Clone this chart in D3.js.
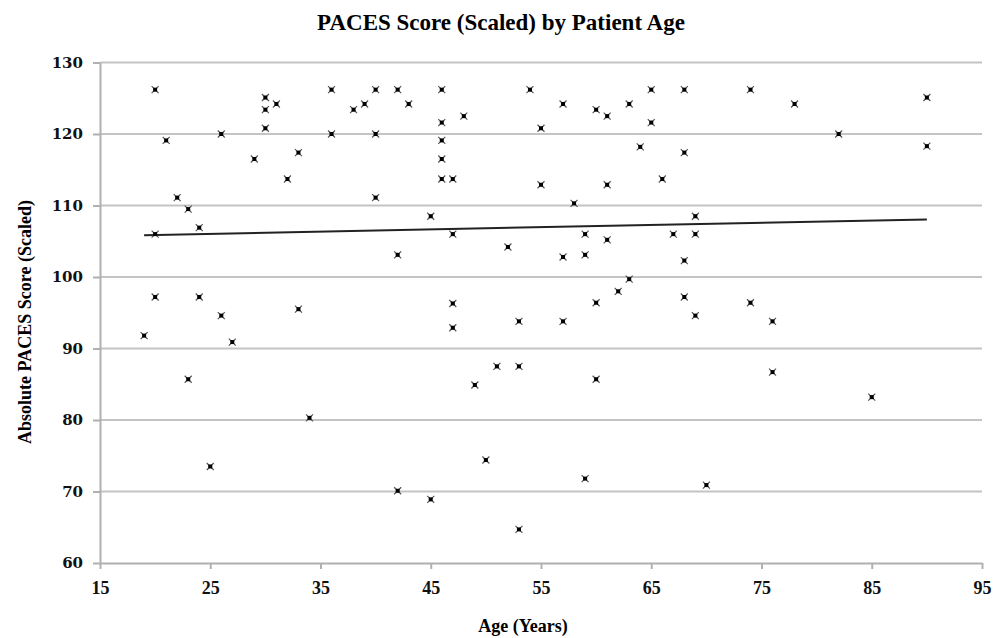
<!doctype html>
<html>
<head>
    <style>
        body { margin: 0; background: #fff; }
        .grid line { stroke: #c4c4c4; stroke-width: 2; }
        .axis path, .axis line { stroke: #b0b0b0; stroke-width: 2; }
        .axis text { fill: #111; }
    </style>
    <script src="https://d3js.org/d3.v7.min.js"></script>
</head>
<body>
<svg width="1003" height="638"></svg>
<script>

    // patient age (years) and scaled PACES score
    var ages = [20, 21, 26, 30, 30, 31, 30, 29, 33, 32, 22, 23, 24, 20, 20, 24, 26, 19, 27, 33, 23, 34, 25,
                36, 40, 42, 46, 54, 38, 39, 43, 48, 46, 36, 40, 46, 46, 46, 47, 40, 45, 47, 52, 42, 47, 55, 55,
                47, 53, 51, 53, 49, 50, 42, 45, 53,
                65, 68, 74, 57, 60, 61, 63, 65, 64, 68, 61, 66, 58, 69, 59, 67, 69, 61, 57, 59, 68, 63, 62, 68,
                60, 74, 57, 69, 60, 59, 70, 78, 82, 90, 90, 76, 76, 85];
    var scores = [126.2, 119.1, 120.0, 125.1, 123.4, 124.2, 120.8, 116.5, 117.4, 113.7, 111.1, 109.5, 106.9, 106.0, 97.2, 97.2, 94.6, 91.8, 90.9, 95.5, 85.7, 80.3, 73.5,
                  126.2, 126.2, 126.2, 126.2, 126.2, 123.4, 124.2, 124.2, 122.5, 121.6, 120.0, 120.0, 119.1, 116.5, 113.7, 113.7, 111.1, 108.5, 106.0, 104.2, 103.1, 96.3, 120.8, 112.9,
                  92.9, 93.8, 87.5, 87.5, 84.9, 74.4, 70.1, 68.9, 64.7,
                  126.2, 126.2, 126.2, 124.2, 123.4, 122.5, 124.2, 121.6, 118.2, 117.4, 112.9, 113.7, 110.3, 108.5, 106.0, 106.0, 106.0, 105.2, 102.8, 103.1, 102.3, 99.7, 98.0, 97.2,
                  96.4, 96.4, 93.8, 94.6, 85.7, 71.8, 70.9, 124.2, 120.0, 125.1, 118.3, 93.8, 86.7, 83.2];

    // linear trend line end points
    var trendAges = [19, 90];
    var trendScores = [105.85, 108.05];

    var xTicks = [15, 25, 35, 45, 55, 65, 75, 85, 95];
    var yTicks = [60, 70, 80, 90, 100, 110, 120, 130];

    var svg = d3.select("svg");
    var plotLeft = 100, plotRight = 982, plotTop = 62.5, plotBottom = 563;

    var x = d3.scaleLinear().domain([15, 95]).range([plotLeft, plotRight]);
    var y = d3.scaleLinear().domain([60, 130]).range([plotBottom, plotTop]);

    svg.append("text")
       .attr("x", 501)
       .attr("y", 30)
       .attr("text-anchor", "middle")
       .attr("font-family", "Liberation Serif")
       .attr("font-weight", "bold")
       .attr("font-size", "23px")
       .text("PACES Score (Scaled) by Patient Age");

    // horizontal grid
    svg.append("g")
       .attr("class", "grid")
       .selectAll("line")
       .data(yTicks.filter(function(d) { return d > 60; }))
       .enter().append("line")
       .attr("x1", plotLeft)
       .attr("x2", plotRight)
       .attr("y1", function(d) { return y(d); })
       .attr("y2", function(d) { return y(d); });

    var yAxis = svg.append("g")
       .attr("class", "axis")
       .attr("transform", "translate(" + plotLeft + ",0)")
       .call(d3.axisLeft(y).tickValues(yTicks).tickSize(7).tickPadding(10).tickSizeOuter(0));
    yAxis.selectAll("text")
       .attr("font-family", "DejaVu Serif")
       .attr("font-weight", "bold")
       .attr("font-size", "15px");

    var xAxis = svg.append("g")
       .attr("class", "axis")
       .attr("transform", "translate(0," + plotBottom + ")")
       .call(d3.axisBottom(x).tickValues(xTicks).tickSize(6).tickPadding(12).tickSizeOuter(0));
    xAxis.selectAll("text")
       .attr("font-family", "Liberation Serif")
       .attr("font-weight", "bold")
       .attr("font-size", "18px");

    svg.append("text")
       .attr("x", 523)
       .attr("y", 632)
       .attr("text-anchor", "middle")
       .attr("font-family", "Liberation Serif")
       .attr("font-weight", "bold")
       .attr("font-size", "18px")
       .text("Age (Years)");

    svg.append("text")
       .attr("transform", "translate(31,322) rotate(-90)")
       .attr("text-anchor", "middle")
       .attr("font-family", "Liberation Serif")
       .attr("font-weight", "bold")
       .attr("font-size", "18px")
       .text("Absolute PACES Score (Scaled)");

    // trend line
    var line = d3.line()
       .x(function(d, i) { return x(trendAges[i]); })
       .y(function(d) { return y(d); });
    svg.append("path")
       .datum(trendScores)
       .attr("fill", "none")
       .attr("stroke", "#222")
       .attr("stroke-width", 2)
       .attr("d", line);

    // markers
    var pts = svg.append("g")
       .selectAll("g")
       .data(ages)
       .enter().append("g")
       .attr("transform", function(d, i) { return "translate(" + x(d) + "," + y(scores[i]) + ")"; });
    pts.append("path")
       .attr("d", "M-3.5,-3.5L3.5,3.5M-3.5,3.5L3.5,-3.5")
       .attr("stroke", "#555")
       .attr("stroke-width", 1.2);
    pts.append("rect")
       .attr("x", -2)
       .attr("y", -2)
       .attr("width", 4)
       .attr("height", 4)
       .attr("fill", "#000");

</script>
</body>
</html>
